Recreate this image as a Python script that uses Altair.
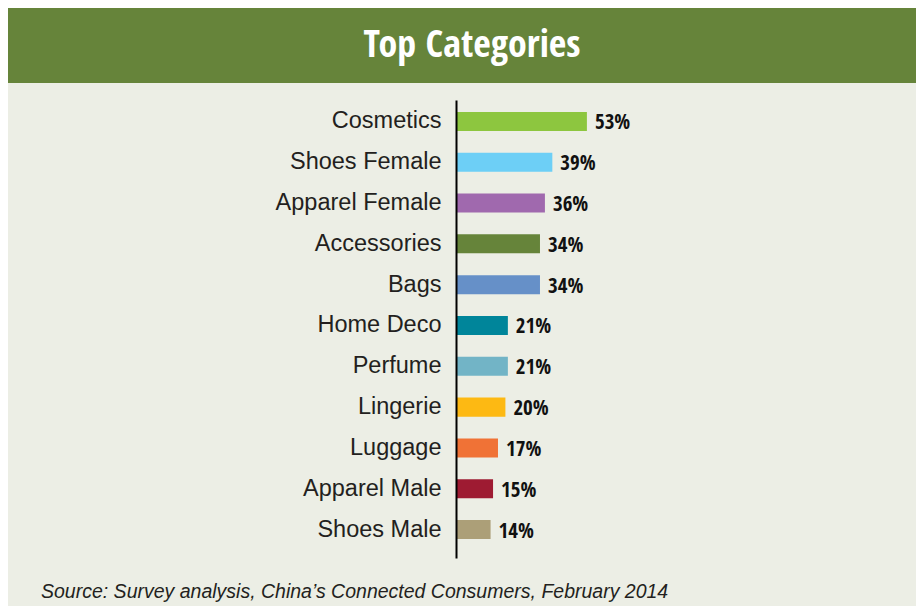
import altair as alt
import pandas as pd

categories = ["Cosmetics", "Shoes Female", "Apparel Female", "Accessories", "Bags",
              "Home Deco", "Perfume", "Lingerie", "Luggage", "Apparel Male", "Shoes Male"]
values = [53, 39, 36, 34, 34, 21, 21, 20, 17, 15, 14]
colors = ["#8DC63F", "#6DCFF6", "#A069AE", "#66843A", "#6690C8",
          "#00859A", "#72B4C6", "#FDB913", "#F07236", "#9E1B32", "#AC9F78"]
title_text = "Top Categories"
source_text = "Source: Survey analysis, China\u2019s Connected Consumers, February 2014"

BG = "#ECEEE5"
DARK = "#66843A"
NARROW = "'Open Sans Condensed', 'Roboto Condensed', 'DejaVu Sans Condensed', sans-serif"
SANS = "'Liberation Sans', Arial, sans-serif"

df = pd.DataFrame({"category": categories, "value": values,
                   "label": [f"{v}%" for v in values]})
one = pd.DataFrame({"t": [title_text], "s": [source_text]})

W, H = 460, 458
x_scale = alt.Scale(domain=[0, W / 2.47], nice=False, zero=True)
y_scale = alt.Scale(domain=categories, paddingInner=0.534, paddingOuter=0.3775, align=0.386)

header = alt.Chart(one).mark_rect(color=DARK).encode(
    x=alt.value(-448), x2=alt.value(470), y=alt.value(-95), y2=alt.value(-17)
)

title = alt.Chart(one).mark_text(
    font=NARROW, fontSize=38, fontWeight="bold", color="white",
    align="center", baseline="alphabetic"
).encode(x=alt.value(16), y=alt.value(-43), text="t:N")

source = alt.Chart(one).mark_text(
    font=SANS, fontSize=19.5, fontStyle="italic", color="#231F20",
    align="left", baseline="alphabetic"
).encode(x=alt.value(-415), y=alt.value(498), text="s:N")

bars = alt.Chart(df).mark_bar().encode(
    x=alt.X("value:Q", scale=x_scale, axis=None),
    y=alt.Y("category:N", scale=y_scale, sort=categories,
            axis=alt.Axis(title=None, ticks=False, grid=False, domain=True,
                          domainColor="#000000", domainWidth=2, zindex=1,
                          labelFont=SANS, labelFontSize=23.5, labelColor="#231F20",
                          labelPadding=15, labelLimit=400)),
    color=alt.Color("category:N", scale=alt.Scale(domain=categories, range=colors), legend=None),
)

labels = alt.Chart(df).mark_text(
    font=NARROW, fontSize=21, fontWeight="bold", color="#111111",
    align="left", baseline="middle", dx=8, dy=2
).encode(
    x=alt.X("value:Q", scale=x_scale),
    y=alt.Y("category:N", scale=y_scale, sort=categories),
    text="label:N",
)

chart = alt.layer(header, title, bars, labels, source).properties(
    width=W, height=H,
    autosize=alt.AutoSizeParams(type="none"),
    padding={"left": 448, "top": 92, "right": 0, "bottom": 48},
    background=BG,
).configure_view(stroke=None)

chart.save("out.html", embed_options={"renderer": "svg", "actions": False})
